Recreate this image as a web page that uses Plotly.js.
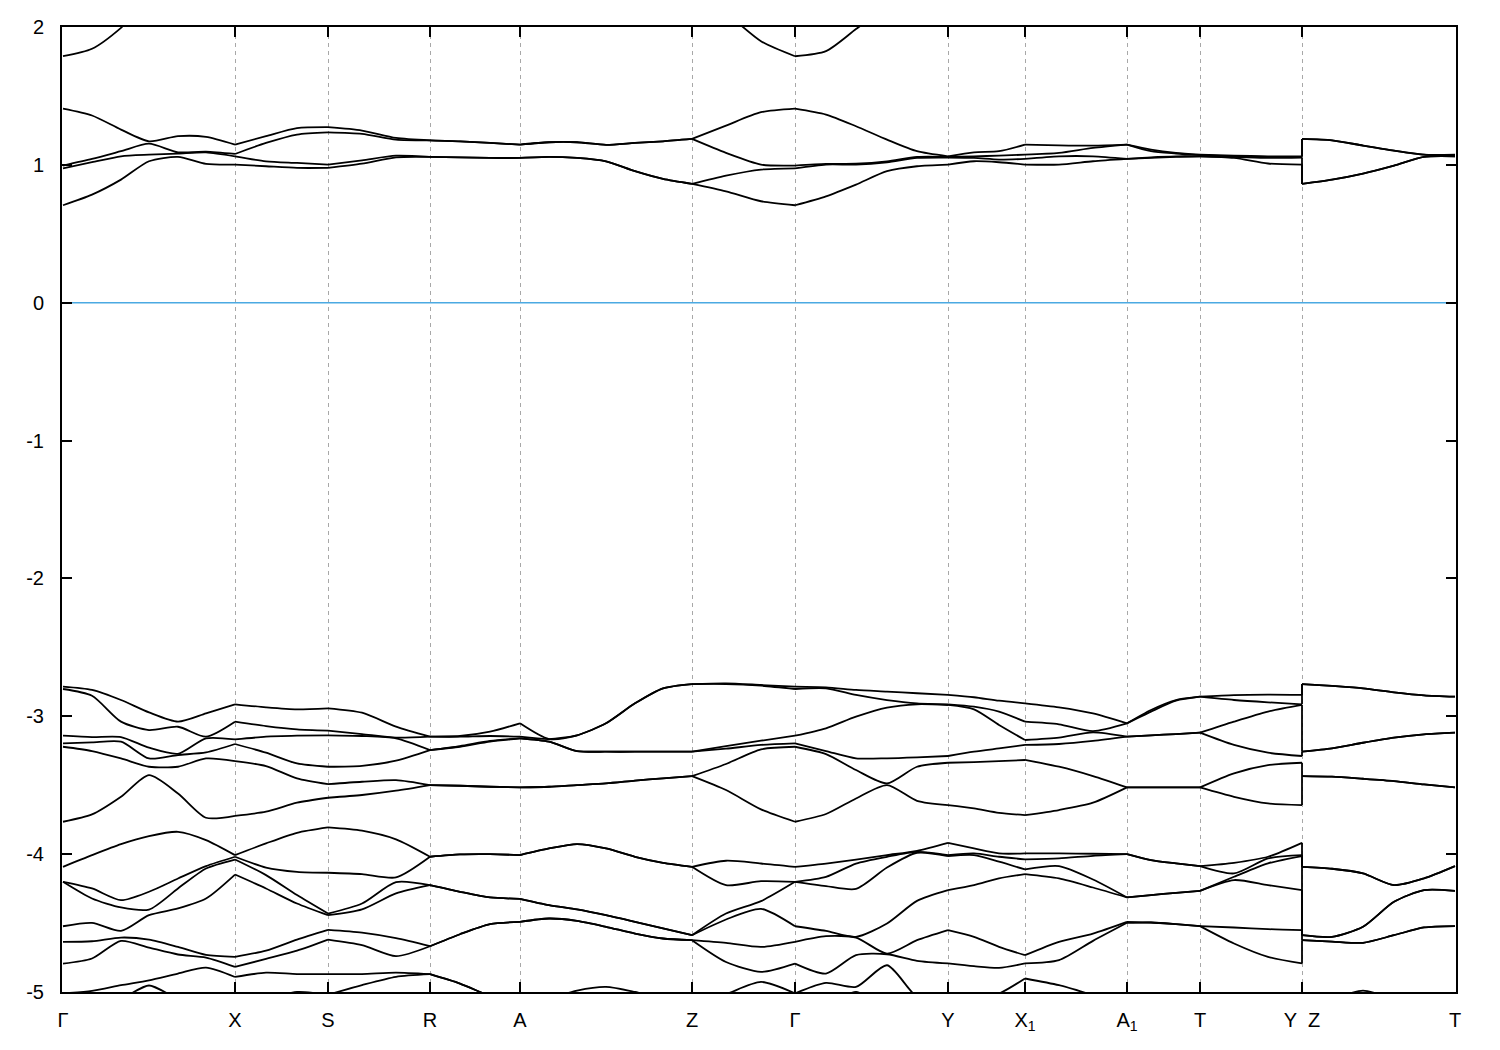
<!DOCTYPE html>
<html>
<head>
<meta charset="utf-8">
<script src="https://cdn.plot.ly/plotly-3.0.1.min.js"></script>
<style>html,body{margin:0;padding:0;background:#fff;}</style>
</head>
<body>
<div id="chart" style="width:1500px;height:1050px;"></div>
<script>
// k-path coordinate of every sample point (Y|Z break appears twice)
const kGrid = [0, 0.29, 0.58, 0.86, 1.15, 1.43, 1.72, 2.03, 2.34, 2.65, 2.99, 3.33, 3.67, 3.97, 4.27, 4.57,
  4.86, 5.14, 5.43, 5.72, 6.00, 6.29, 6.63, 6.98, 7.32, 7.63, 7.93, 8.24, 8.54, 8.85, 9.11, 9.36, 9.62,
  9.96, 10.30, 10.64, 10.88, 11.13, 11.37, 11.71, 12.05, 12.39, 12.39, 12.69, 13.00, 13.31, 13.61, 13.92];

// high-symmetry points
const kTicks = [0, 1.72, 2.65, 3.67, 4.57, 6.29, 7.32, 8.85, 9.62, 10.64, 11.37, 12.39, 13.92];
const kLabels = ["Γ", "X", "S", "R", "A", "Z", "Γ", "Y", "X<sub>1</sub>", "A<sub>1</sub>", "T", "Y  Z", "T"];

const eTicks = [-5, -4, -3, -2, -1, 0, 1, 2];
const eLabels = ["-5", "-4", "-3", "-2", "-1", "0", "1", "2"];
const fermiLevel = 0;

// valence bands (eV), lowest first
const v1 = [-5.5,-5.45,-5.4,-5.35,-5.3,-5.2,-5.3,-5.25,-5.2,-5.15,-5.1,-5.05,-5.08,-5.1,-5.12,-5.15,-5.2,-5.25,-5.3,-5.3,-5.3,-5.3,-5.471,-5.496,-5.5,-5.496,-5.496,-5.471,-5.399,-5.3,-5.3,-5.3,-5.3,-5.3,-5.3,-5.3,-5.3,-5.3,-5.3,-5.3,-5.3,-5.3,-5.3,-5.3,-5.3,-5.3,-5.3,-5.3];
const v2 = [-5.2,-5.1,-5.05,-4.953,-5.05,-5.1,-5.1,-5.05,-5.0,-5.02,-4.95,-4.89,-4.871,-4.939,-5.03,-5.1,-5.15,-5.2,-5.2,-5.2,-5.2,-5.2,-5.278,-5.326,-5.2,-5.108,-4.999,-5.132,-5.229,-5.2,-5.2,-5.2,-5.15,-5.1,-5.15,-5.2,-5.2,-5.2,-5.2,-5.2,-5.2,-5.2,-5.2,-5.2,-5.2,-5.2,-5.2,-5.2];
const v3 = [-5.01,-4.992,-4.951,-4.915,-4.866,-4.823,-4.891,-4.86,-4.87,-4.87,-4.87,-4.86,-4.871,-4.939,-5.03,-5.1,-5.05,-4.99,-4.963,-5.0,-5.05,-5.1,-5.016,-4.927,-5.01,-4.934,-4.963,-4.806,-5.036,-5.1,-5.05,-5.011,-4.902,-4.951,-5.023,-5.1,-5.1,-5.1,-5.1,-5.1,-5.1,-5.1,-5.1,-5.05,-4.99,-5.05,-5.1,-5.1];
const v4 = [-4.794,-4.757,-4.629,-4.678,-4.728,-4.75,-4.818,-4.76,-4.7,-4.62,-4.66,-4.74,-4.668,-4.581,-4.508,-4.491,-4.467,-4.484,-4.527,-4.576,-4.612,-4.624,-4.782,-4.854,-4.794,-4.866,-4.733,-4.726,-4.774,-4.793,-4.813,-4.825,-4.793,-4.769,-4.629,-4.498,-4.496,-4.508,-4.522,-4.648,-4.745,-4.793,-4.624,-4.634,-4.643,-4.588,-4.532,-4.522];
const v5 = [-4.636,-4.632,-4.605,-4.62,-4.673,-4.731,-4.745,-4.7,-4.62,-4.55,-4.57,-4.61,-4.668,-4.581,-4.508,-4.491,-4.467,-4.484,-4.527,-4.576,-4.612,-4.624,-4.644,-4.673,-4.636,-4.595,-4.605,-4.721,-4.624,-4.551,-4.6,-4.672,-4.733,-4.636,-4.576,-4.491,-4.496,-4.508,-4.522,-4.532,-4.544,-4.551,-4.624,-4.634,-4.643,-4.588,-4.532,-4.522];
const v6 = [-4.523,-4.499,-4.557,-4.443,-4.394,-4.322,-4.148,-4.249,-4.358,-4.443,-4.401,-4.285,-4.225,-4.273,-4.314,-4.324,-4.37,-4.401,-4.443,-4.491,-4.539,-4.588,-4.474,-4.397,-4.523,-4.557,-4.6,-4.503,-4.339,-4.261,-4.225,-4.176,-4.145,-4.176,-4.242,-4.314,-4.297,-4.281,-4.266,-4.188,-4.225,-4.261,-4.588,-4.6,-4.527,-4.346,-4.261,-4.266];
const v7 = [-4.201,-4.322,-4.387,-4.402,-4.249,-4.104,-4.039,-4.152,-4.297,-4.431,-4.358,-4.203,-4.225,-4.273,-4.314,-4.324,-4.37,-4.401,-4.443,-4.491,-4.539,-4.588,-4.431,-4.341,-4.201,-4.232,-4.252,-4.097,-3.99,-4.014,-4.007,-4.055,-4.111,-4.087,-4.184,-4.314,-4.297,-4.281,-4.266,-4.164,-4.067,-4.014,-4.588,-4.6,-4.527,-4.346,-4.261,-4.266];
const v8 = [-4.201,-4.249,-4.334,-4.273,-4.177,-4.087,-4.019,-4.097,-4.128,-4.135,-4.145,-4.169,-4.019,-4.002,-4.0,-4.007,-3.959,-3.927,-3.959,-4.019,-4.063,-4.092,-4.225,-4.196,-4.201,-4.165,-4.068,-4.019,-3.983,-4.007,-3.995,-4.019,-4.038,-4.031,-4.012,-4.0,-4.043,-4.067,-4.087,-4.14,-4.031,-4.007,-4.092,-4.106,-4.14,-4.225,-4.176,-4.087];
const v9 = [-4.092,-4.007,-3.927,-3.869,-3.838,-3.898,-4.007,-3.922,-3.845,-3.806,-3.83,-3.893,-4.019,-4.002,-4.0,-4.007,-3.959,-3.927,-3.959,-4.019,-4.063,-4.092,-4.048,-4.068,-4.092,-4.068,-4.039,-4.007,-3.976,-3.918,-3.959,-3.995,-3.995,-3.995,-3.997,-4.0,-4.043,-4.067,-4.087,-4.063,-4.019,-3.918,-4.092,-4.106,-4.14,-4.225,-4.176,-4.087];
const v10 = [-3.765,-3.712,-3.584,-3.427,-3.56,-3.736,-3.722,-3.692,-3.627,-3.591,-3.571,-3.54,-3.499,-3.504,-3.511,-3.516,-3.511,-3.499,-3.487,-3.467,-3.45,-3.434,-3.535,-3.675,-3.765,-3.709,-3.596,-3.499,-3.613,-3.644,-3.668,-3.7,-3.717,-3.68,-3.627,-3.516,-3.516,-3.516,-3.516,-3.584,-3.632,-3.644,-3.434,-3.438,-3.453,-3.47,-3.494,-3.516];
const v11 = [-3.221,-3.252,-3.306,-3.366,-3.366,-3.306,-3.325,-3.361,-3.45,-3.492,-3.475,-3.463,-3.499,-3.504,-3.511,-3.516,-3.511,-3.499,-3.487,-3.467,-3.45,-3.434,-3.346,-3.24,-3.221,-3.274,-3.39,-3.487,-3.366,-3.337,-3.332,-3.325,-3.317,-3.366,-3.434,-3.516,-3.516,-3.516,-3.516,-3.414,-3.354,-3.337,-3.434,-3.438,-3.453,-3.47,-3.494,-3.516];
const v12 = [-3.197,-3.189,-3.184,-3.306,-3.281,-3.262,-3.201,-3.264,-3.342,-3.366,-3.359,-3.322,-3.245,-3.221,-3.184,-3.16,-3.184,-3.252,-3.257,-3.257,-3.257,-3.257,-3.235,-3.208,-3.197,-3.252,-3.305,-3.305,-3.298,-3.288,-3.257,-3.233,-3.208,-3.201,-3.179,-3.148,-3.138,-3.129,-3.119,-3.208,-3.264,-3.288,-3.257,-3.233,-3.192,-3.155,-3.131,-3.119];
const v13 = [-3.141,-3.151,-3.151,-3.228,-3.272,-3.16,-3.168,-3.148,-3.141,-3.138,-3.143,-3.16,-3.245,-3.216,-3.179,-3.16,-3.184,-3.252,-3.257,-3.257,-3.257,-3.257,-3.216,-3.177,-3.141,-3.087,-3.003,-2.937,-2.913,-2.918,-2.95,-3.063,-3.172,-3.155,-3.117,-3.148,-3.138,-3.129,-3.119,-3.039,-2.966,-2.918,-3.257,-3.233,-3.192,-3.155,-3.131,-3.119];
const v14 = [-2.802,-2.851,-3.039,-3.1,-3.076,-3.148,-3.039,-3.071,-3.095,-3.104,-3.129,-3.155,-3.148,-3.148,-3.143,-3.148,-3.165,-3.138,-3.051,-2.906,-2.797,-2.766,-2.766,-2.778,-2.802,-2.797,-2.845,-2.882,-2.906,-2.913,-2.93,-2.966,-3.039,-3.058,-3.107,-3.051,-2.966,-2.887,-2.858,-2.882,-2.899,-2.913,-2.766,-2.78,-2.797,-2.826,-2.848,-2.858];
const v15 = [-2.785,-2.809,-2.882,-2.972,-3.039,-2.979,-2.913,-2.935,-2.95,-2.942,-2.974,-3.075,-3.148,-3.143,-3.112,-3.051,-3.165,-3.138,-3.051,-2.906,-2.797,-2.766,-2.761,-2.773,-2.785,-2.79,-2.809,-2.821,-2.833,-2.845,-2.862,-2.887,-2.906,-2.935,-2.979,-3.051,-2.954,-2.882,-2.858,-2.846,-2.843,-2.845,-2.766,-2.78,-2.797,-2.826,-2.848,-2.858];

// conduction bands (eV), lowest first
const c1 = [0.707,0.784,0.893,1.026,1.058,1.007,1.002,0.99,0.978,0.978,1.009,1.055,1.058,1.055,1.05,1.05,1.058,1.05,1.026,0.954,0.898,0.862,0.808,0.736,0.707,0.772,0.857,0.954,0.99,1.002,1.026,1.019,1.002,1.002,1.026,1.043,1.05,1.058,1.062,1.05,1.01,1.002,0.862,0.893,0.937,0.995,1.058,1.062];
const c2 = [0.975,1.019,1.062,1.074,1.082,1.091,1.062,1.026,1.014,1.002,1.033,1.067,1.058,1.055,1.05,1.05,1.058,1.05,1.026,0.954,0.898,0.862,0.922,0.966,0.975,1.002,1.002,1.019,1.05,1.053,1.05,1.038,1.043,1.062,1.062,1.043,1.055,1.062,1.062,1.058,1.05,1.053,0.862,0.893,0.937,0.995,1.058,1.062];
const c3 = [0.995,1.043,1.099,1.154,1.091,1.096,1.079,1.159,1.22,1.236,1.225,1.183,1.178,1.171,1.159,1.147,1.164,1.164,1.145,1.159,1.171,1.188,1.087,1.002,0.995,1.007,1.009,1.026,1.058,1.058,1.062,1.067,1.074,1.087,1.123,1.147,1.099,1.082,1.07,1.062,1.058,1.058,1.188,1.178,1.14,1.103,1.074,1.07];
const c4 = [1.408,1.358,1.256,1.171,1.208,1.203,1.147,1.208,1.266,1.273,1.249,1.195,1.178,1.171,1.159,1.147,1.164,1.164,1.145,1.159,1.171,1.188,1.285,1.382,1.408,1.365,1.28,1.183,1.099,1.062,1.091,1.099,1.147,1.142,1.14,1.147,1.111,1.087,1.074,1.067,1.062,1.062,1.188,1.178,1.14,1.103,1.074,1.074];
const c5 = [1.788,1.842,1.994,2.2,2.35,2.45,2.5,2.55,2.6,2.6,2.6,2.6,2.6,2.6,2.6,2.6,2.55,2.5,2.45,2.4,2.35,2.25,2.1,1.897,1.788,1.825,1.985,2.15,2.3,2.4,2.45,2.5,2.5,2.5,2.5,2.5,2.5,2.5,2.5,2.5,2.45,2.4,2.25,2.3,2.4,2.45,2.5,2.5];

const bands = [v1, v2, v3, v4, v5, v6, v7, v8, v9, v10, v11, v12, v13, v14, v15, c1, c2, c3, c4, c5];

// index ranges of the path segments between high-symmetry points in kGrid
const segments = [[0,6],[6,9],[9,12],[12,15],[15,21],[21,24],[24,29],[29,32],[32,35],[35,38],[38,41],[42,47]];
const jump = [41, 42];

const traces = [{
  x: [kGrid[0], kGrid[kGrid.length - 1]],
  y: [fermiLevel, fermiLevel],
  mode: 'lines',
  line: {color: '#4ba9e2', width: 1.5},
  hoverinfo: 'skip',
  showlegend: false
}];
bands.forEach(b => {
  segments.forEach(([a, z]) => traces.push({
    x: kGrid.slice(a, z + 1), y: b.slice(a, z + 1), mode: 'lines',
    line: {color: '#000000', width: 1.8, shape: 'spline', smoothing: 0.7},
    hoverinfo: 'skip', showlegend: false
  }));
  traces.push({
    x: [kGrid[jump[0]], kGrid[jump[1]]], y: [b[jump[0]], b[jump[1]]], mode: 'lines',
    line: {color: '#000000', width: 1.8},
    hoverinfo: 'skip', showlegend: false
  });
});

const fontAx = {family: 'Liberation Sans, Arial, sans-serif', size: 20, color: '#000'};

const layout = {
  width: 1500, height: 1050,
  margin: {l: 62, r: 44, t: 27, b: 58},
  paper_bgcolor: '#ffffff', plot_bgcolor: '#ffffff',
  showlegend: false,
  xaxis: {
    range: [-0.01, 13.93],
    tickmode: 'array', tickvals: kTicks, ticktext: kLabels,
    ticks: 'inside', ticklen: 10, tickwidth: 2, tickcolor: '#000',
    showline: true, linecolor: '#000', linewidth: 2, mirror: 'ticks',
    showgrid: true, gridcolor: '#a8a8a8', gridwidth: 1, griddash: '4px,4px',
    zeroline: false, tickfont: fontAx, ticklabelstandoff: 9
  },
  yaxis: {
    range: [-5, 2],
    tickmode: 'array', tickvals: eTicks, ticktext: eLabels,
    ticks: 'inside', ticklen: 10, tickwidth: 2, tickcolor: '#000',
    showline: true, linecolor: '#000', linewidth: 2, mirror: 'ticks',
    showgrid: false, zeroline: false, tickfont: fontAx, ticklabelstandoff: 12
  }
};

Plotly.newPlot('chart', traces, layout, {displayModeBar: false, staticPlot: true});
</script>
</body>
</html>
